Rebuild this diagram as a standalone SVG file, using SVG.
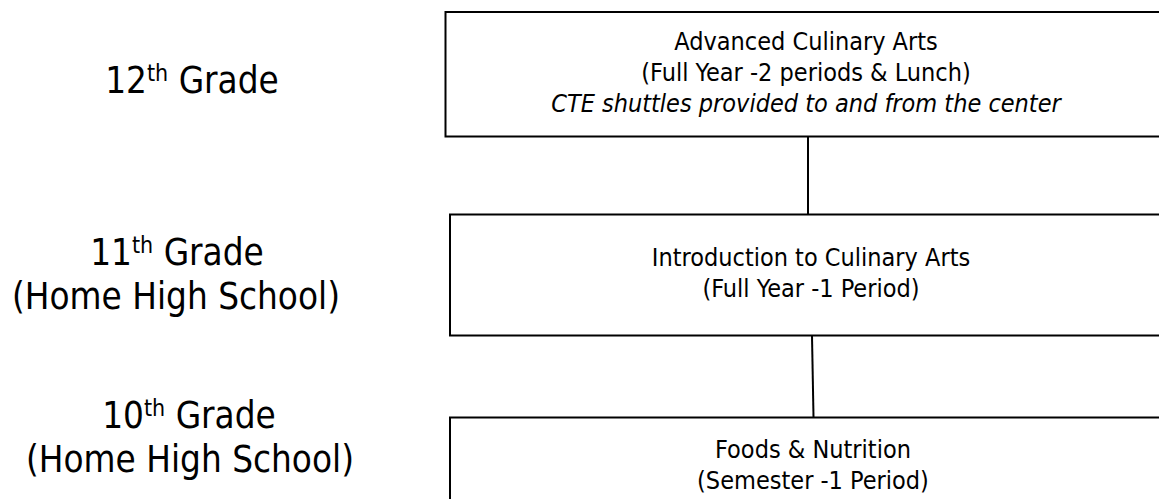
<svg xmlns="http://www.w3.org/2000/svg" width="1159" height="499" viewBox="0 0 1159 499">
  <style>
    .box { fill: #ffffff; stroke: #000000; stroke-width: 2; }
    .link { stroke: #000000; stroke-width: 2; fill: none; }
    .grade { font-family: "DejaVu Sans Condensed", "DejaVu Sans", Tahoma, sans-serif; font-stretch: condensed; font-size: 36.5px; fill: #000000; text-anchor: middle; }
    .course { font-family: "DejaVu Sans Condensed", "DejaVu Sans", Tahoma, sans-serif; font-stretch: condensed; font-size: 25px; fill: #000000; text-anchor: middle; }
    .note { font-style: italic; }
    .sup { font-size: 23px; }
  </style>
  <rect width="1159" height="499" fill="#ffffff"/>

  <!-- grade labels -->
  <g id="grade-12">
    <text class="grade" x="192" y="93">12<tspan class="sup" dy="-12">th</tspan><tspan dy="12"> Grade</tspan></text>
  </g>
  <g id="grade-11">
    <text class="grade" x="177" y="265">11<tspan class="sup" dy="-12">th</tspan><tspan dy="12"> Grade</tspan></text>
    <text class="grade" x="176" y="309">(Home High School)</text>
  </g>
  <g id="grade-10">
    <text class="grade" x="189" y="428">10<tspan class="sup" dy="-12">th</tspan><tspan dy="12"> Grade</tspan></text>
    <text class="grade" x="190" y="472">(Home High School)</text>
  </g>

  <!-- connectors -->
  <g id="connectors">
    <line class="link" x1="808" y1="137" x2="808" y2="214"/>
    <line class="link" x1="812" y1="336" x2="813.5" y2="417"/>
  </g>

  <!-- course boxes (run off the right edge) -->
  <g id="advanced-culinary">
    <rect class="box" x="445.5" y="12" width="760" height="124.5"/>
    <text class="course" x="806" y="50">Advanced Culinary Arts</text>
    <text class="course" x="806" y="81">(Full Year -2 periods &amp; Lunch)</text>
    <text class="course note" x="806" y="112">CTE shuttles provided to and from the center</text>
  </g>
  <g id="intro-culinary">
    <rect class="box" x="450" y="214.5" width="760" height="121"/>
    <text class="course" x="811" y="266">Introduction to Culinary Arts</text>
    <text class="course" x="811" y="297">(Full Year -1 Period)</text>
  </g>
  <g id="foods-nutrition">
    <rect class="box" x="450" y="417.5" width="760" height="100"/>
    <text class="course" x="813" y="458">Foods &amp; Nutrition</text>
    <text class="course" x="813" y="489">(Semester -1 Period)</text>
  </g>
</svg>
